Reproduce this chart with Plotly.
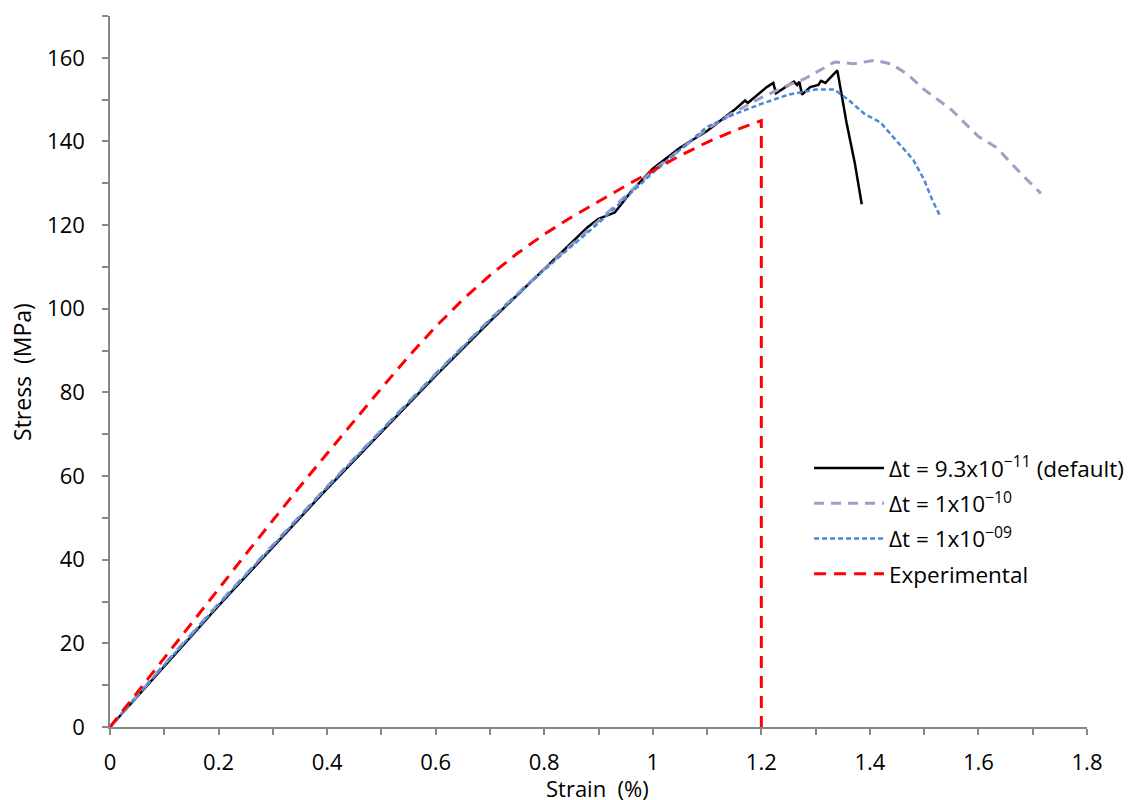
import plotly.graph_objects as go

# Δt = 9.3x10^-11 (default)
strain_default = [0, 0.1, 0.2, 0.3, 0.4, 0.5, 0.6, 0.7, 0.8, 0.88, 0.9, 0.93, 0.96, 1.0, 1.05, 1.1, 1.15,
                  1.17, 1.175, 1.21, 1.222, 1.227, 1.26, 1.266, 1.27, 1.275, 1.29, 1.305, 1.31, 1.318,
                  1.34, 1.357, 1.372, 1.385]
stress_default = [0, 14.5, 29, 43, 57, 70.5, 84, 97, 109.5, 119.5, 121.5, 123, 128, 133.5, 138.5, 142.5, 147.5,
                  149.8, 149.2, 153, 154, 151.5, 154.3, 153.5, 154.3, 151.2, 153, 153.5, 154.5, 154,
                  157, 144.5, 135, 125]

# Δt = 1x10^-10
strain_e10 = [0, 0.1, 0.2, 0.3, 0.4, 0.5, 0.6, 0.7, 0.8, 0.9, 1.0, 1.1, 1.15, 1.2, 1.25, 1.28, 1.3, 1.335,
              1.37, 1.41, 1.44, 1.47, 1.5, 1.53, 1.55, 1.575, 1.6, 1.635, 1.66, 1.69, 1.715]
stress_e10 = [0, 15, 29.5, 43.5, 57.5, 71, 84.5, 97.5, 109.5, 121, 133, 143, 147, 150.5, 153.5, 155, 156.5, 159,
              158.6, 159.4, 158.5, 156, 152.4, 149.6, 147.6, 144.4, 141.2, 138.4, 134.8, 130.8, 127.6]

# Δt = 1x10^-09
strain_e09 = [0, 0.1, 0.2, 0.3, 0.4, 0.5, 0.6, 0.7, 0.8, 0.9, 1.0, 1.05, 1.1, 1.15, 1.2, 1.25, 1.3, 1.335,
              1.36, 1.39, 1.42, 1.45, 1.48, 1.5, 1.515, 1.53]
stress_e09 = [0, 14.8, 29.3, 43.3, 57.3, 70.8, 84.3, 97.3, 109.3, 120.5, 132.5, 138, 143.5, 146.5, 149, 151.2,
              152.4, 152.4, 150, 146.6, 144.5, 140, 135.6, 130.8, 126, 122]

# Experimental
strain_exp = [0, 0.05, 0.1, 0.15, 0.2, 0.25, 0.3, 0.35, 0.4, 0.45, 0.5, 0.55, 0.6, 0.65, 0.7, 0.75, 0.8,
              0.85, 0.9, 0.95, 1.0, 1.05, 1.1, 1.15, 1.2, 1.2]
stress_exp = [0, 8.2, 16.4, 24.8, 33.0, 41.3, 49.5, 57.5, 65.4, 73.3, 81.0, 88.6, 95.7, 102.2, 108.0, 113.2,
              117.8, 121.9, 125.7, 129.4, 133.0, 136.6, 139.8, 142.6, 145, 0]

names = ["Δt = 9.3x10<sup>−11</sup> (default)", "Δt = 1x10<sup>−10</sup>",
         "Δt = 1x10<sup>−09</sup>", "Experimental"]
x_title = "Strain  (%)"
y_title = "Stress  (MPa)"

fig = go.Figure()
fig.add_trace(go.Scatter(x=strain_default, y=stress_default, mode="lines", name=names[0], legendgroup="a",
                         line=dict(color="#000000", width=2.5)))
fig.add_trace(go.Scatter(x=strain_e10, y=stress_e10, mode="lines", name=names[1], legendgroup="b",
                         line=dict(color="#A59CC4", width=3, dash="10px,7px")))
fig.add_trace(go.Scatter(x=strain_e09, y=stress_e09, mode="lines", name=names[2], legendgroup="c",
                         line=dict(color="#4A86DA", width=2.5, dash="5px,3px")))
fig.add_trace(go.Scatter(x=strain_exp, y=stress_exp, mode="lines", name=names[3], legendgroup="d",
                         line=dict(color="#FF0000", width=3, dash="12px,8px")))

font_family = "Open Sans, Noto Sans, sans-serif"
axis_common = dict(showgrid=False, zeroline=False, showline=True, linecolor="#878787", linewidth=1.5,
                   ticks="outside", tickcolor="#878787", ticklen=6, tickwidth=1.5, automargin=False,
                   tickfont=dict(size=22, color="#000000", family=font_family))

fig.update_layout(
    width=1138, height=800,
    margin=dict(l=102, r=59, t=8, b=81),
    paper_bgcolor="white", plot_bgcolor="white",
    font=dict(family=font_family, color="#000000"),
    xaxis=dict(range=[0, 1.8], tickvals=[0, 0.2, 0.4, 0.6, 0.8, 1, 1.2, 1.4, 1.6, 1.8],
               ticktext=["0", "0.2", "0.4", "0.6", "0.8", "1", "1.2", "1.4", "1.6", "1.8"],
               minor=dict(dtick=0.1, ticks="outside", ticklen=6, tickcolor="#878787", tickwidth=1.5),
               ticklabelstandoff=9,
               **axis_common),
    yaxis=dict(range=[0, 170], dtick=20, tick0=0,
               minor=dict(dtick=10, ticks="outside", ticklen=6, tickcolor="#878787", tickwidth=1.5),
               ticklabelstandoff=13,
               **axis_common),
    legend=dict(x=0.7155, y=0.394, xanchor="left", yanchor="top", bgcolor="rgba(0,0,0,0)",
                font=dict(size=22.5, color="#000000", family=font_family), itemwidth=70,
                tracegroupgap=3),
    showlegend=True,
    annotations=[
        dict(text=x_title, xref="paper", yref="paper", x=0.4985, y=-0.0858, xanchor="center",
             yanchor="middle", showarrow=False, font=dict(size=22, color="#000000", family=font_family)),
        dict(text=y_title, xref="paper", yref="paper", x=-0.0901, y=0.4993, xanchor="center",
             yanchor="middle", textangle=-90, showarrow=False,
             font=dict(size=23, color="#000000", family=font_family)),
    ],
)

fig.write_html("out.html")
